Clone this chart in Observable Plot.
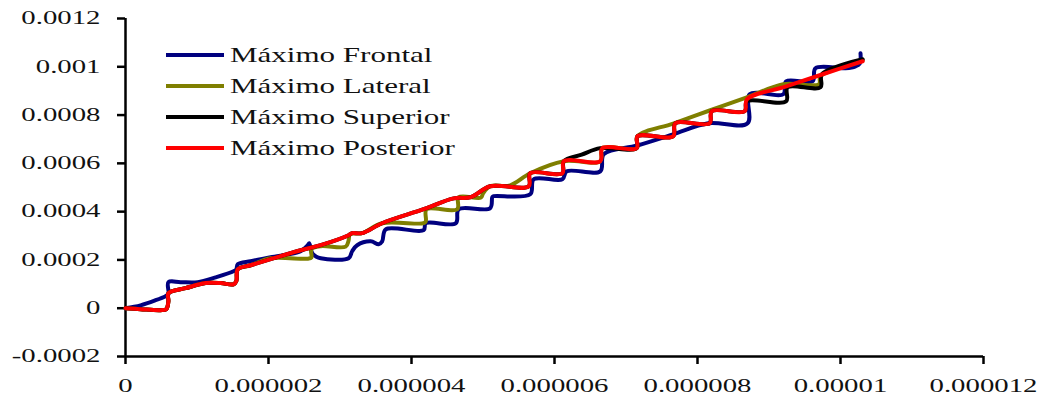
<!DOCTYPE html>
<html>
<head>
<meta charset="utf-8">
<script src="https://cdn.jsdelivr.net/npm/d3@7"></script>
<script src="https://cdn.jsdelivr.net/npm/@observablehq/plot@0.6"></script>
<style>
  body { margin: 0; background: #fff; }
  #chart { position: relative; width: 1059px; height: 400px; }
  .legend { position: absolute; left: 0; top: 0; font-family: "Liberation Serif", "Times New Roman", serif; font-size: 22px; color: #111; }
  .legend .row { position: absolute; display: flex; align-items: center; white-space: nowrap; height: 30px; }
  .legend .swatch { width: 58px; height: 4px; margin-right: 6px; }
  .legend .label { display: inline-block; transform: scaleX(1.41); transform-origin: left center; }
</style>
</head>
<body>
<div id="chart"></div>
<script>
// Axis ticks and their printed labels
const xTicks = [0, 0.000002, 0.000004, 0.000006, 0.000008, 0.00001, 0.000012];
const xTickLabels = ["0", "0.000002", "0.000004", "0.000006", "0.000008", "0.00001", "0.000012"];
const yTicks = [-0.0002, 0, 0.0002, 0.0004, 0.0006, 0.0008, 0.001, 0.0012];
const yTickLabels = ["-0.0002", "0", "0.0002", "0.0004", "0.0006", "0.0008", "0.001", "0.0012"];

// Series names, in drawing order
const seriesNames = ["Máximo Frontal", "Máximo Lateral", "Máximo Superior", "Máximo Posterior"];
const seriesColors = ["#00007f", "#7f7f00", "#000000", "#ff0000"];

// Máximo Frontal
const frontalX = [0, 0.21e-6, 0.42e-6, 0.56e-6, 0.60e-6, 0.60e-6, 0.77e-6, 1.01e-6, 1.26e-6, 1.51e-6,
  1.55e-6, 1.57e-6, 1.75e-6, 2.03e-6, 2.45e-6, 2.55e-6, 2.57e-6, 2.60e-6, 2.62e-6, 2.66e-6,
  2.73e-6, 3.12e-6, 3.17e-6, 3.24e-6, 3.43e-6, 3.54e-6, 3.59e-6, 3.64e-6, 4.17e-6, 4.20e-6,
  4.62e-6, 4.66e-6, 5.10e-6, 5.13e-6, 5.15e-6, 5.66e-6, 5.71e-6, 6.11e-6, 6.17e-6, 6.64e-6,
  6.69e-6, 7.16e-6, 7.66e-6, 8.15e-6, 8.70e-6, 8.73e-6, 9.20e-6, 9.24e-6, 9.61e-6, 9.65e-6,
  10.07e-6, 10.21e-6, 10.27e-6, 10.28e-6];
const frontalY = [0, 0.12e-4, 0.33e-4, 0.50e-4, 0.58e-4, 1.08e-4, 1.08e-4, 1.08e-4, 1.28e-4, 1.53e-4,
  1.61e-4, 1.82e-4, 1.95e-4, 2.11e-4, 2.36e-4, 2.61e-4, 2.69e-4, 2.36e-4, 2.24e-4, 2.15e-4,
  2.07e-4, 2.07e-4, 2.36e-4, 2.61e-4, 2.77e-4, 2.65e-4, 2.77e-4, 3.27e-4, 3.23e-4, 3.52e-4,
  3.52e-4, 4.10e-4, 4.14e-4, 4.60e-4, 4.64e-4, 4.72e-4, 5.34e-4, 5.34e-4, 5.67e-4, 5.67e-4,
  6.38e-4, 6.74e-4, 7.20e-4, 7.66e-4, 7.66e-4, 8.86e-4, 8.86e-4, 9.40e-4, 9.40e-4, 9.94e-4,
  9.94e-4, 10.02e-4, 10.14e-4, 10.56e-4];

// Máximo Lateral
const lateralX = [0, 0.21e-6, 0.49e-6, 0.57e-6, 0.60e-6, 0.60e-6, 0.84e-6, 1.12e-6, 1.33e-6, 1.51e-6,
  1.55e-6, 1.57e-6, 1.75e-6, 2.03e-6, 2.55e-6, 2.60e-6, 2.60e-6, 2.73e-6, 3.08e-6, 3.12e-6,
  3.14e-6, 3.31e-6, 3.59e-6, 4.17e-6, 4.20e-6, 4.21e-6, 4.64e-6, 4.66e-6, 4.97e-6, 5.00e-6,
  5.10e-6, 5.38e-6, 5.66e-6, 6.13e-6, 6.64e-6, 6.67e-6, 7.15e-6, 7.16e-6, 7.66e-6, 8.18e-6,
  8.70e-6, 9.20e-6, 9.70e-6, 9.72e-6, 10.31e-6];
const lateralY = [0, -0.04e-4, -0.08e-4, -0.04e-4, 0.29e-4, 0.62e-4, 0.83e-4, 1.04e-4, 1.04e-4, 0.99e-4,
  1.12e-4, 1.61e-4, 1.78e-4, 2.07e-4, 2.05e-4, 2.10e-4, 2.44e-4, 2.57e-4, 2.55e-4, 2.80e-4,
  3.06e-4, 3.11e-4, 3.52e-4, 3.52e-4, 3.60e-4, 4.10e-4, 4.10e-4, 4.60e-4, 4.58e-4, 4.75e-4,
  5.05e-4, 5.09e-4, 5.59e-4, 6.09e-4, 6.09e-4, 6.63e-4, 6.63e-4, 7.12e-4, 7.65e-4, 8.20e-4,
  8.74e-4, 9.28e-4, 9.28e-4, 9.60e-4, 10.27e-4];

// Máximo Superior
const superiorX = [0, 0.21e-6, 0.49e-6, 0.57e-6, 0.60e-6, 0.60e-6, 0.84e-6, 1.12e-6, 1.33e-6, 1.51e-6,
  1.55e-6, 1.57e-6, 1.75e-6, 2.03e-6, 2.45e-6, 2.73e-6, 3.12e-6, 3.17e-6, 3.31e-6, 3.59e-6,
  4.17e-6, 4.59e-6, 4.83e-6, 5.10e-6, 5.64e-6, 5.66e-6, 6.11e-6, 6.13e-6, 6.38e-6, 6.64e-6,
  7.15e-6, 7.16e-6, 7.66e-6, 7.69e-6, 8.17e-6, 8.20e-6, 8.66e-6, 8.69e-6, 9.24e-6, 9.26e-6,
  9.72e-6, 9.74e-6, 10.31e-6];
const superiorY = [0, -0.04e-4, -0.08e-4, -0.04e-4, 0.29e-4, 0.62e-4, 0.83e-4, 1.04e-4, 1.04e-4, 0.99e-4,
  1.12e-4, 1.61e-4, 1.78e-4, 2.03e-4, 2.40e-4, 2.61e-4, 3.02e-4, 3.11e-4, 3.11e-4, 3.52e-4,
  4.10e-4, 4.55e-4, 4.60e-4, 5.05e-4, 5.05e-4, 5.59e-4, 5.59e-4, 6.09e-4, 6.36e-4, 6.63e-4,
  6.63e-4, 7.12e-4, 7.12e-4, 7.66e-4, 7.66e-4, 8.16e-4, 8.16e-4, 8.57e-4, 8.57e-4, 9.15e-4,
  9.15e-4, 9.69e-4, 10.31e-4];

// Máximo Posterior
const posteriorX = [0, 0.21e-6, 0.49e-6, 0.57e-6, 0.60e-6, 0.60e-6, 0.84e-6, 1.12e-6, 1.33e-6, 1.51e-6,
  1.55e-6, 1.57e-6, 1.75e-6, 2.03e-6, 2.45e-6, 2.73e-6, 3.12e-6, 3.17e-6, 3.31e-6, 3.59e-6,
  4.17e-6, 4.59e-6, 4.83e-6, 5.10e-6, 5.64e-6, 5.66e-6, 6.11e-6, 6.13e-6, 6.64e-6, 6.67e-6,
  7.15e-6, 7.16e-6, 7.66e-6, 7.69e-6, 8.17e-6, 8.20e-6, 8.66e-6, 8.69e-6, 9.23e-6, 9.72e-6,
  10.31e-6];
const posteriorY = [0, -0.04e-4, -0.08e-4, -0.04e-4, 0.29e-4, 0.62e-4, 0.83e-4, 1.04e-4, 1.04e-4, 0.99e-4,
  1.12e-4, 1.61e-4, 1.78e-4, 2.03e-4, 2.40e-4, 2.61e-4, 3.02e-4, 3.11e-4, 3.11e-4, 3.52e-4,
  4.10e-4, 4.55e-4, 4.60e-4, 5.05e-4, 5.05e-4, 5.59e-4, 5.59e-4, 6.09e-4, 6.09e-4, 6.63e-4,
  6.63e-4, 7.12e-4, 7.12e-4, 7.66e-4, 7.66e-4, 8.16e-4, 8.16e-4, 8.65e-4, 9.18e-4, 9.66e-4,
  10.23e-4];

const seriesX = [frontalX, lateralX, superiorX, posteriorX];
const seriesY = [frontalY, lateralY, superiorY, posteriorY];

const points = seriesX.map((xs, s) => xs.map((x, i) => ({x, y: seriesY[s][i]})));

const xLabelOf = new Map(xTicks.map((v, i) => [v, xTickLabels[i]]));
const yLabelOf = new Map(yTicks.map((v, i) => [v, yTickLabels[i]]));

const chart = Plot.plot({
  width: 1059,
  height: 400,
  marginLeft: 125,
  marginRight: 76,
  marginTop: 18,
  marginBottom: 44,
  x: {domain: [0, 0.000012]},
  y: {domain: [-0.0002, 0.0012]},
  style: {fontFamily: "'Liberation Serif', 'Times New Roman', serif", fontSize: "18px", color: "#111", background: "#fff"},
  marks: [
    Plot.axisX({ticks: xTicks, tickFormat: (d) => xLabelOf.get(d), tickSize: 8, tickPadding: 15, strokeWidth: 2.5, stroke: "#000", label: null, fontSize: 18}),
    Plot.axisY({ticks: yTicks, tickFormat: (d) => yLabelOf.get(d), tickSize: 8, tickPadding: 17, strokeWidth: 2.5, stroke: "#000", label: null, fontSize: 18}),
    Plot.ruleX([0], {stroke: "#000", strokeWidth: 2.5}),
    Plot.ruleY([-0.0002], {stroke: "#000", strokeWidth: 2.5}),
    // smoothed lines through the sampled points
    ...points.map((pts, s) => Plot.line(pts, {x: "x", y: "y", stroke: seriesColors[s], strokeWidth: 4, curve: "catmull-rom", strokeLinejoin: "round", strokeLinecap: "round"}))
  ]
});

// Tick labels are set in a wide serif face
const stretch = 1.6;
chart.querySelectorAll('g[aria-label="x-axis tick label"] text, g[aria-label="y-axis tick label"] text').forEach((t) => {
  const tr = t.getAttribute("transform");
  if (tr) {
    t.setAttribute("transform", tr + ` scale(${stretch},1)`);
  } else {
    const x = +t.getAttribute("x") || 0, y = +t.getAttribute("y") || 0;
    t.removeAttribute("x"); t.removeAttribute("y");
    t.setAttribute("transform", `translate(${x},${y}) scale(${stretch},1)`);
  }
});

const host = document.getElementById("chart");
host.appendChild(chart);

// Legend in the upper-left of the plotting area
const legend = document.createElement("div");
legend.className = "legend";
seriesNames.forEach((name, i) => {
  const row = document.createElement("div");
  row.className = "row";
  row.style.left = "166px";
  row.style.top = (39.5 + i * 31.3) + "px";
  const sw = document.createElement("span");
  sw.className = "swatch";
  sw.style.background = seriesColors[i];
  const lab = document.createElement("span");
  lab.className = "label";
  lab.textContent = name;
  row.appendChild(sw);
  row.appendChild(lab);
  legend.appendChild(row);
});
host.appendChild(legend);
</script>
</body>
</html>
